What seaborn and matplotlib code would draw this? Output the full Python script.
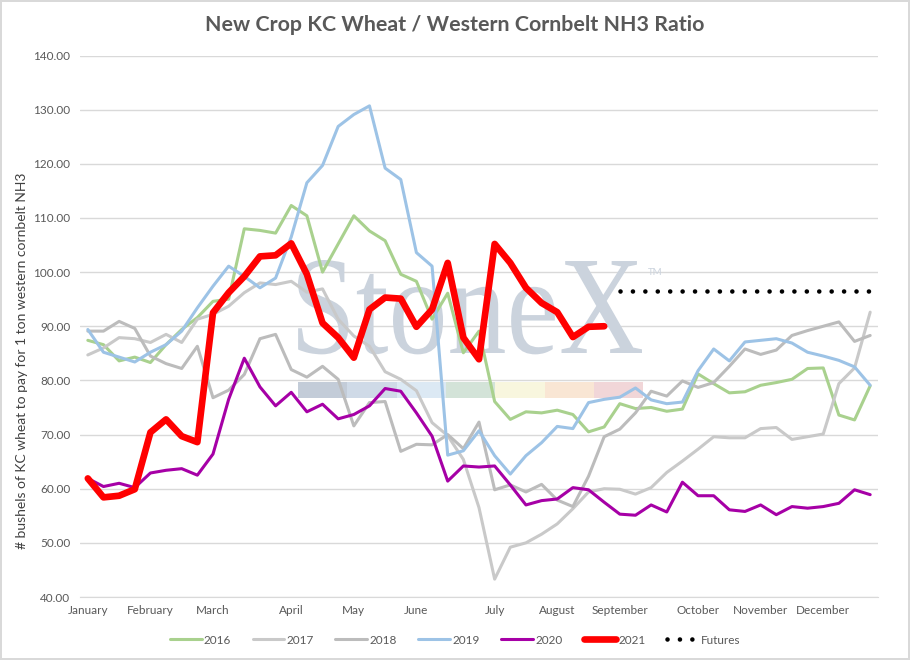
import numpy as np
import pandas as pd
import seaborn as sns
import matplotlib.pyplot as plt
from matplotlib.ticker import FormatStrFormatter
from matplotlib.textpath import TextPath
from matplotlib.patches import PathPatch, Rectangle
from matplotlib.font_manager import FontProperties
from matplotlib.transforms import Affine2D

sns.set_style("white")
plt.rcParams["font.family"] = ["Lato", "DejaVu Sans"]

# weekly points, Jan -> Dec
weeks = np.arange(51)
month_pos = [0, 4, 8, 13, 17, 21, 26, 30, 34, 39, 43, 47]
month_names = ["January", "February", "March", "April", "May", "June", "July",
               "August", "September", "October", "November", "December"]

y2016 = [87.4, 86.6, 83.6, 84.3, 83.3, 86.6, 89.4, 91.6, 94.6, 95.0, 108.0, 107.7, 107.2,
         112.3, 110.4, 100.0, 105.2, 110.4, 107.6, 105.8, 99.6, 98.3, 91.3, 96.1, 85.1, 89.1,
         76.1, 72.8, 74.2, 74.0, 74.5, 73.7, 70.5, 71.4, 75.7, 74.8, 75.0, 74.3, 74.7, 81.2,
         79.4, 77.7, 77.9, 79.1, 79.6, 80.2, 82.2, 82.3, 73.6, 72.7, 79.0]
y2017 = [84.7, 86.0, 87.9, 87.7, 87.0, 88.5, 87.0, 91.3, 92.2, 93.7, 96.2, 98.0, 97.7,
         98.3, 96.3, 96.9, 91.3, 88.2, 86.3, 81.6, 80.2, 78.1, 72.2, 69.8, 65.4, 56.5,
         43.3, 49.2, 50.0, 51.6, 53.5, 56.3, 59.4, 60.0, 59.9, 59.0, 60.2, 63.0, 65.1, 67.3,
         69.6, 69.4, 69.4, 71.1, 71.3, 69.1, 69.6, 70.1, 79.4, 82.3, 92.6]
y2018 = [89.1, 89.1, 90.9, 89.6, 84.5, 83.1, 82.2, 86.3, 76.8, 78.2, 81.1, 87.7, 88.5,
         82.0, 80.6, 82.6, 80.2, 71.6, 75.9, 76.1, 66.9, 68.2, 68.1, 70.0, 67.4, 72.3,
         59.8, 60.7, 59.4, 60.8, 57.9, 56.7, 62.3, 69.6, 71.0, 74.0, 78.0, 77.1, 79.9, 78.7,
         79.6, 82.6, 85.8, 84.8, 85.6, 88.3, 89.2, 90.0, 90.8, 87.2, 88.3]
y2019 = [89.4, 85.2, 84.3, 83.4, 85.2, 86.6, 89.1, 93.4, 97.4, 101.1, 99.2, 97.1, 98.9,
         106.5, 116.5, 119.7, 126.9, 129.1, 130.7, 119.2, 117.1, 103.6, 101.1, 66.2, 67.0, 70.7,
         66.1, 62.7, 66.1, 68.5, 71.5, 71.1, 75.9, 76.5, 76.9, 78.6, 76.4, 75.7, 76.0, 81.8,
         85.8, 83.6, 87.1, 87.4, 87.7, 86.9, 85.2, 84.5, 83.7, 82.5, 79.1]
y2020 = [61.9, 60.4, 61.0, 60.2, 62.9, 63.4, 63.7, 62.5, 66.4, 76.5, 84.1, 78.8, 75.3,
         77.8, 74.2, 75.6, 72.9, 73.7, 75.3, 78.5, 78.0, 74.0, 69.7, 61.4, 64.2, 64.0,
         64.2, 60.7, 57.0, 57.8, 58.1, 60.2, 59.8, 57.5, 55.3, 55.1, 57.0, 55.7, 61.2, 58.7,
         58.7, 56.1, 55.8, 57.0, 55.2, 56.7, 56.4, 56.7, 57.3, 59.8, 58.9]
y2021 = [61.9, 58.4, 58.7, 59.9, 70.4, 72.8, 69.7, 68.6, 92.5, 96.2, 99.2, 102.9, 103.1,
         105.3, 99.6, 90.6, 87.9, 84.2, 93.1, 95.3, 95.1, 89.9, 93.1, 101.7, 87.9, 83.9,
         105.2, 101.7, 97.1, 94.3, 92.6, 88.0, 89.9, 90.0]
futures_weeks = weeks[34:]
futures = [96.6, 96.6, 96.6, 96.6, 96.6, 96.6, 96.6, 96.6, 96.6,
           96.6, 96.6, 96.6, 96.6, 96.6, 96.6, 96.6, 96.6]

fig = plt.figure(figsize=(9.1, 6.6), dpi=100)
fig.patch.set_edgecolor("#d9d9d9")
fig.patch.set_linewidth(1.5)
ax = fig.add_axes([80 / 910, 63 / 660, 798 / 910, 541.5 / 660])

# StoneX watermark + colour band
tp = TextPath((0, 0), "StoneX", size=1, prop=FontProperties(family="Liberation Serif"))
ext = tp.get_extents()
x0, x1 = 298 / 910, 642 / 910
ytop, ybase = 1 - 260 / 660, 1 - 353 / 660
tr = Affine2D().translate(-ext.x0, 0).scale((x1 - x0) / ext.width, (ytop - ybase) / ext.y1) \
    .translate(x0, ybase) + fig.transFigure
ax.add_patch(PathPatch(tp, transform=tr, facecolor="#cbd3dd", edgecolor="none", zorder=1))
fig.text(648 / 910, 1 - 273 / 660, "TM", fontsize=7, color="#cbd3dd", va="center")
band_cols = ["#c3ccd8", "#cfdae7", "#dce9f4", "#d3e3d8", "#f8f6de", "#f9e6d4", "#f1d6d8"]
for k, c in enumerate(band_cols):
    ax.add_patch(Rectangle(((298 + 49.3 * k) / 910, 1 - 398 / 660), 49.3 / 910, 16.5 / 660,
                           transform=fig.transFigure, facecolor=c, edgecolor="none", zorder=1))

series = [("2016", y2016, "#a9d18e", 2.2),
          ("2017", y2017, "#c9c9c9", 2.2),
          ("2018", y2018, "#bcbcbc", 2.2),
          ("2019", y2019, "#9dc3e6", 2.2),
          ("2020", y2020, "#a600a6", 2.2),
          ("2021", y2021, "#ff0000", 4.8)]
for name, vals, col, lw in series:
    sns.lineplot(x=weeks[:len(vals)], y=vals, color=col, lw=lw, label=name, ax=ax, zorder=3)
sns.lineplot(x=futures_weeks, y=futures, color="black", lw=3.3, linestyle=(0, (0.01, 2.7)),
             dash_capstyle="round", label="Futures", ax=ax, zorder=3)

ax.set_xlim(-0.5, 50.5)
ax.set_ylim(40, 140)
ax.set_yticks(np.arange(40, 141, 10))
ax.yaxis.set_major_formatter(FormatStrFormatter("%.2f"))
ax.set_xticks(month_pos)
ax.set_xticklabels(month_names)
ax.tick_params(length=0, labelsize=8.5, labelcolor="#595959")
ax.tick_params(axis="y", pad=7)
ax.tick_params(axis="x", pad=6)
ax.grid(axis="y", color="#d9d9d9", lw=1)
ax.set_axisbelow(True)
for s in ["top", "right", "left"]:
    ax.spines[s].set_visible(False)
ax.spines["bottom"].set_color("#d9d9d9")
ax.set_xlabel("")
ax.set_ylabel("")

fig.text(0.5, 1 - 25 / 660, "New Crop KC Wheat / Western Cornbelt NH3 Ratio",
         ha="center", va="center", fontsize=15.4, fontweight="bold", color="#595959")
fig.text(22 / 910, 1 - 361 / 660, "# bushels of KC wheat to pay for 1 ton western cornbelt NH3",
         rotation=90, ha="center", va="center", fontsize=10, color="#404040")

h, l = ax.get_legend_handles_labels()
if ax.get_legend():
    ax.get_legend().remove()
fig.legend(h, l, loc="center", bbox_to_anchor=(0.5, 20 / 660), ncol=7, frameon=False,
           fontsize=8.5, handlelength=2.7, handletextpad=0.2, columnspacing=1.8,
           labelcolor="#595959")

plt.savefig("out.png", dpi=100)
